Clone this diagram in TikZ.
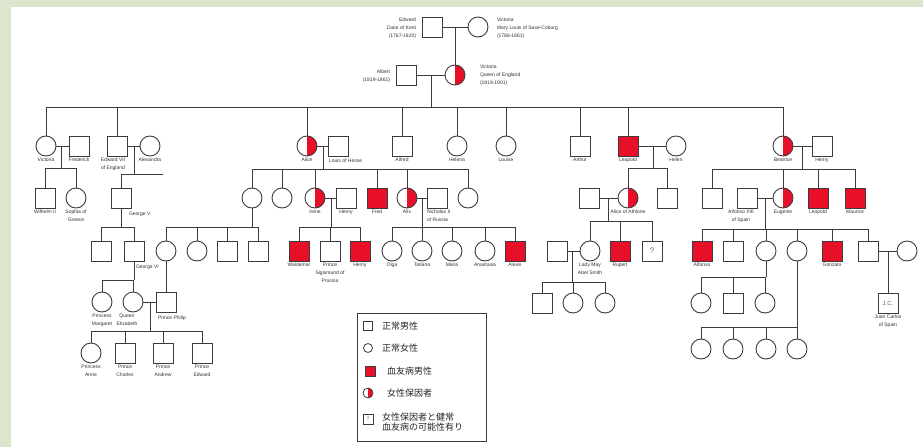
\documentclass[tikz,border=0pt]{standalone}
\usepackage{fontspec}
\setmainfont{Liberation Sans}
\newfontfamily\jpfont{Noto Sans CJK JP}
\usetikzlibrary{calc}
\definecolor{bggreen}{RGB}{221,230,204}
\definecolor{hred}{RGB}{232,16,40}
\definecolor{ln}{RGB}{60,60,60}
\newcommand\kidline[2]{\draw[link] (#1) -- (#1 |- #2);}
\begin{document}
\begin{tikzpicture}[x=1pt,y=-1pt,
  every node/.style={inner sep=0pt, outer sep=0pt},
  sq/.style={draw=ln, line width=0.9pt, rectangle, minimum size=20pt, fill=white},
  ci/.style={draw=ln, line width=0.9pt, circle, minimum size=20pt, fill=white},
  aff/.style={sq, fill=hred},
  car/.style={ci, path picture={\fill[hred] (path picture bounding box.north) rectangle (path picture bounding box.south east);}},
  lbl/.style={font=\fontsize{5}{7.8}\selectfont, align=center, text=black!80},
  every label/.style={lbl},
  label distance=2pt,
  link/.style={draw=ln, line width=0.9pt},
  lgt/.style={font=\jpfont\fontsize{9}{9.5}\selectfont, anchor=west, align=left, text=black!85},
]
\useasboundingbox (0,0) rectangle (923,447);
\fill[bggreen] (0,0) rectangle (923,447);
\fill[white] (11,7) rectangle (923,447);

% ---------- Generation I ----------
\node[sq] (edw) at (432,27) {};
\node[ci] (vicm) at (478,27) {};
\node[sq] (alb) at (406,75) {};
\node[car] (vq) at (455,75) {};
\node[lbl, anchor=east, align=right] (tedw) at (416,28) {Edward\\Duke of Kent\\(1767-1820)};
\node[lbl, anchor=west, align=left] (tvicm) at (497,28) {Victoria\\Mary Louis of Saxe-Coburg\\(1786-1861)};
\node[lbl, anchor=east, align=right] (talb) at (390,76) {Albert\\(1819-1861)};
\node[lbl, anchor=west, align=left] (tvq) at (480,75) {Victoria\\Queen of England\\(1819-1901)};
\draw[link] (edw) -- (vicm);
\coordinate (m0) at (455,27);
\draw[link] (m0) -- (vq);
\draw[link] (alb) -- (vq);
\coordinate (m1) at (431,75);
\coordinate (s1a) at (47,107);
\coordinate (s1b) at (784,107);
\draw[link] (s1a) -- (s1b);
\draw[link] (m1) -- (m1 |- s1a);

% ---------- Generation II ----------
\node[ci, label=below:Victoria] (vicp) at (46,146) {};
\node[sq, label=below:Frederick] (fred) at (79,146) {};
\node[sq, label={[xshift=-4pt]below:Edward VII\\of England}] (ed7) at (117,146) {};
\node[ci, label=below:Alexandra] (alex) at (150,146) {};
\node[car, label=below:Alice] (alice) at (307,146) {};
\node[sq] (louis) at (338,146) {};
\node[lbl, anchor=north west] (tlouis) at ($(louis.south west)+(1,3)$) {Louis of Hesse};
\node[sq, label=below:Alfred] (alfred) at (402,146) {};
\node[ci, label=below:Helena] (helena) at (457,146) {};
\node[ci, label=below:Louise] (louise) at (506,146) {};
\node[sq, label=below:Arthur] (arthur) at (580,146) {};
\node[aff, label=below:Leopold] (leo) at (628,146) {};
\node[ci, label=below:Helen] (helen) at (676,146) {};
\node[car, label=below:Beatrice] (bea) at (783,146) {};
\node[sq, label=below:Henry] (henb) at (822,146) {};
\foreach \k in {vicp,ed7,alice,alfred,helena,louise,arthur,leo,bea} {\kidline{\k}{s1a}}
\draw[link] (vicp) -- (fred);
\draw[link] (ed7) -- (alex);
\draw[link] (alice) -- (louis);
\draw[link] (leo) -- (helen);
\draw[link] (bea) -- (henb);
% sibships
\coordinate (m2a) at (61,146);  \coordinate (s2a) at (45,168);  \coordinate (s2ae) at (77,168);
\draw[link] (m2a) -- (m2a |- s2a); \draw[link] (s2a) -- (s2ae);
\coordinate (m2b) at (134,146); \coordinate (s2b) at (121,174); \coordinate (s2be) at (163,174);
\draw[link] (m2b) -- (m2b |- s2b); \draw[link] (s2b) -- (s2be);
\coordinate (m2c) at (323,146); \coordinate (s2c) at (252,169); \coordinate (s2ce) at (468,169);
\draw[link] (m2c) -- (m2c |- s2c); \draw[link] (s2c) -- (s2ce);
\coordinate (m2d) at (653,146); \coordinate (s2d) at (628,168); \coordinate (s2de) at (667,168);
\draw[link] (m2d) -- (m2d |- s2d); \draw[link] (s2d) -- (s2de);
\coordinate (m2e) at (802,146); \coordinate (s2e) at (712,169); \coordinate (s2ee) at (855,169);
\draw[link] (m2e) -- (m2e |- s2e); \draw[link] (s2e) -- (s2ee);

% ---------- Generation III ----------
\node[sq, label=below:Wilhelm II] (wil) at (45,198) {};
\node[ci, label=below:Sophia of\\Greece] (soph) at (76,198) {};
\node[sq] (g5) at (121,198) {};
\node[lbl, anchor=north west] (tg5) at ($(g5.south east)+(-2,4)$) {George V};
\node[ci] (vh) at (252,198) {};
\node[ci] (ella) at (282,198) {};
\node[car, label=below:Irene] (irene) at (315,198) {};
\node[sq, label=below:Henry] (henp) at (346,198) {};
\node[aff, label=below:Fred] (fredh) at (377,198) {};
\node[car, label=below:Alix] (alix) at (407,198) {};
\node[sq] (nich) at (437,198) {};
\node[lbl, anchor=north west, align=left] (tnich) at ($(nich.south west)+(0,2)$) {Nicholas II\\of Russia};
\node[ci] (maryh) at (468,198) {};
\node[sq] (alexa) at (589,198) {};
\node[car, label=below:Alice of Athlone] (aoa) at (628,198) {};
\node[sq] (chas) at (667,198) {};
\node[sq] (alexb) at (712,198) {};
\node[sq, label={[xshift=-6pt]below:Alfonso XIII\\of Spain}] (alf13) at (747,198) {};
\node[car, label=below:Eugenie] (eug) at (783,198) {};
\node[aff, label=below:Leopold] (leob) at (818,198) {};
\node[aff, label=below:Maurice] (maur) at (855,198) {};
\foreach \k in {wil,soph} {\kidline{\k}{s2a}}
\kidline{g5}{s2b}
\foreach \k in {vh,ella,irene,fredh,alix,maryh} {\kidline{\k}{s2c}}
\foreach \k in {aoa,chas} {\kidline{\k}{s2d}}
\foreach \k in {alexb,eug,leob,maur} {\kidline{\k}{s2e}}
\draw[link] (irene) -- (henp);
\draw[link] (alix) -- (nich);
\draw[link] (alexa) -- (aoa);
\draw[link] (alf13) -- (eug);
\coordinate (s3a) at (101,227); \coordinate (s3ae) at (134,227);
\draw[link] (g5) -- (g5 |- s3a); \draw[link] (s3a) -- (s3ae);
\coordinate (s3b) at (166,227); \coordinate (s3be) at (258,227);
\draw[link] (vh) -- (vh |- s3b); \draw[link] (s3b) -- (s3be);
\coordinate (m3c) at (331,198); \coordinate (s3c) at (299,227); \coordinate (s3ce) at (360,227);
\draw[link] (m3c) -- (m3c |- s3c); \draw[link] (s3c) -- (s3ce);
\coordinate (m3d) at (422,198); \coordinate (s3d) at (392,227); \coordinate (s3de) at (515,227);
\draw[link] (m3d) -- (m3d |- s3d); \draw[link] (s3d) -- (s3de);
\coordinate (m3e) at (608,198); \coordinate (s3e) at (590,221); \coordinate (s3ee) at (652,221);
\draw[link] (m3e) -- (m3e |- s3e); \draw[link] (s3e) -- (s3ee);
\coordinate (m3f) at (765,198); \coordinate (s3f) at (702,229); \coordinate (s3fe) at (868,229);
\draw[link] (m3f) -- (m3f |- s3f); \draw[link] (s3f) -- (s3fe);

% ---------- Generation IV ----------
\node[sq] (edw8) at (101,251) {};
\node[sq] (g6) at (134,251) {};
\node[lbl, anchor=north west] (tg6) at ($(g6.south east)+(-8,4)$) {George VI};
\node[ci] (alicb) at (166,251) {};
\node[ci] (louiseb) at (197,251) {};
\node[sq] (georgeb) at (227,251) {};
\node[sq] (louism) at (258,251) {};
\node[aff, label=below:Waldemar] (wald) at (299,251) {};
\node[sq, label=below:Prince\\Sigismund of\\Prussia] (sig) at (330,251) {};
\node[aff, label=below:Henry] (henI) at (360,251) {};
\node[ci, label=below:Olga] (olga) at (392,251) {};
\node[ci, label=below:Tatiana] (tat) at (422,251) {};
\node[ci, label=below:Maria] (mar) at (452,251) {};
\node[ci, label=below:Anastasia] (ana) at (485,251) {};
\node[aff, label=below:Alexis] (alexis) at (515,251) {};
\node[sq] (husm) at (557,251) {};
\node[ci, label=below:Lady May\\Abel Smith] (may) at (590,251) {};
\node[aff, label=below:Rupert] (rup) at (620,251) {};
\node[sq, font=\fontsize{8}{8}\selectfont, text=black!60] (unk) at (652,251) {?};
\node[aff, label=below:Alfonso] (alfo) at (702,251) {};
\node[sq] (jai) at (733,251) {};
\node[ci] (bez) at (766,251) {};
\node[ci] (mcr) at (797,251) {};
\node[aff, label=below:Gonzalo] (gon) at (832,251) {};
\node[sq] (juan) at (868,251) {};
\node[ci] (merc) at (907,251) {};
\foreach \k in {edw8,g6} {\kidline{\k}{s3a}}
\foreach \k in {alicb,louiseb,georgeb,louism} {\kidline{\k}{s3b}}
\foreach \k in {wald,sig,henI} {\kidline{\k}{s3c}}
\foreach \k in {olga,tat,mar,ana,alexis} {\kidline{\k}{s3d}}
\foreach \k in {may,rup,unk} {\kidline{\k}{s3e}}
\foreach \k in {alfo,jai,bez,mcr,gon,juan} {\kidline{\k}{s3f}}
\draw[link] (husm) -- (may);
\draw[link] (juan) -- (merc);
\coordinate (s4a) at (102,280); \coordinate (s4ae) at (134,280);
\draw[link] (g6) -- (g6 |- s4a); \draw[link] (s4a) -- (s4ae);
\coordinate (m4b) at (572,251); \coordinate (s4b) at (542,282); \coordinate (s4be) at (605,282);
\draw[link] (m4b) -- (m4b |- s4b); \draw[link] (s4b) -- (s4be);
\coordinate (s4c) at (701,277); \coordinate (s4ce) at (766,277);
\draw[link] (bez) -- (bez |- s4c); \draw[link] (s4c) -- (s4ce);
\coordinate (s4d) at (701,327); \coordinate (s4de) at (797,327);
\draw[link] (s4d) -- (s4de);
\coordinate (m4e) at (888,251);

% ---------- Generation V ----------
\node[ci, label=below:Princess\\Margaret] (marg) at (102,302) {};
\node[ci, label={[xshift=-6pt]below:Queen\\Elizabeth}] (eliz) at (133,302) {};
\node[sq] (phil) at (166,302) {};
\node[lbl, anchor=north west] (tphil) at ($(phil.south west)+(2,4)$) {Prince Philip};
\node[sq] (mk1) at (542,303) {};
\node[ci] (mk2) at (573,303) {};
\node[ci] (mk3) at (605,303) {};
\node[ci] (bk1) at (701,303) {};
\node[sq] (bk2) at (733,303) {};
\node[ci] (bk3) at (765,303) {};
\node[sq, font=\fontsize{6}{6}\selectfont, text=black!60, label=below:Juan Carlos\\of Spain] (jc) at (888,303) {J.C.};
\foreach \k in {marg,eliz} {\kidline{\k}{s4a}}
\draw[link] (alicb) -- (phil);
\draw[link] (eliz) -- (phil);
\foreach \k in {mk1,mk2,mk3} {\kidline{\k}{s4b}}
\foreach \k in {bk1,bk2,bk3} {\kidline{\k}{s4c}}
\draw[link] (m4e) -- (jc);
\coordinate (m5a) at (150,302); \coordinate (s5a) at (91,331); \coordinate (s5ae) at (202,331);
\draw[link] (m5a) -- (m5a |- s5a); \draw[link] (s5a) -- (s5ae);

% ---------- Generation VI ----------
\node[ci, label=below:Princess\\Anne] (anne) at (91,353) {};
\node[sq, label=below:Prince\\Charles] (charl) at (125,353) {};
\node[sq, label=below:Prince\\Andrew] (andr) at (163,353) {};
\node[sq, label=below:Prince\\Edward] (edwp) at (202,353) {};
\foreach \k in {anne,charl,andr,edwp} {\kidline{\k}{s5a}}
\node[ci] (ck1) at (701,349) {};
\node[ci] (ck2) at (733,349) {};
\node[ci] (ck3) at (766,349) {};
\node[ci] (ck4) at (797,349) {};
\foreach \k in {ck1,ck2,ck3} {\kidline{\k}{s4d}}
\draw[link] (mcr) -- (ck4);

% ---------- Legend ----------
\node[draw=ln, line width=1pt, minimum width=129pt, minimum height=128pt, anchor=north west] (legend) at (357,313) {};
\node[sq, minimum size=9pt, line width=0.8pt] (lg1) at (368,326) {};
\node[ci, minimum size=9pt, line width=0.8pt] (lg2) at (368,348) {};
\node[aff, minimum size=10pt, line width=0.8pt] (lg3) at (370,371) {};
\node[car, minimum size=10pt, line width=0.8pt] (lg4) at (368,393) {};
\node[sq, minimum size=10pt, line width=0.8pt, font=\fontsize{5}{5}\selectfont, text=black!60] (lg5) at (368,419) {?};
\node[lgt] (lt1) at (382,326) {正常男性};
\node[lgt] (lt2) at (382,348) {正常女性};
\node[lgt] (lt3) at (387,371) {血友病男性};
\node[lgt] (lt4) at (387,393) {女性保因者};
\node[lgt] (lt5) at (382,422) {女性保因者と健常\\血友病の可能性有り};
\end{tikzpicture}
\end{document}
